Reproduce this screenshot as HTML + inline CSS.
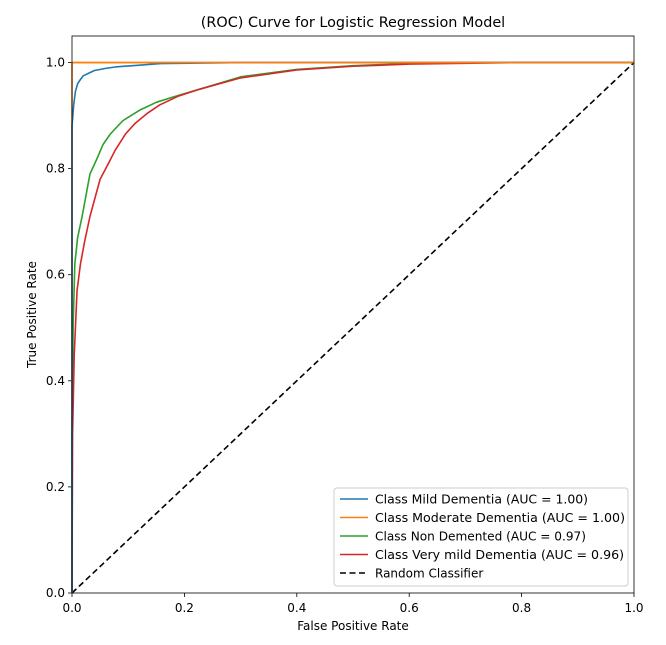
<!DOCTYPE html>
<html><head><meta charset="utf-8"><style>
body{margin:0;background:#fff;width:666px;height:640px;overflow:hidden;font-family:"Liberation Sans","DejaVu Sans",sans-serif}
</style></head><body>
<svg id="chart" width="666" height="640" xmlns="http://www.w3.org/2000/svg" font-family="'DejaVu Sans','Liberation Sans',sans-serif"></svg>
<script>
const tickValues = [0, 0.2, 0.4, 0.6, 0.8, 1.0];
const tickLabels = ["0.0","0.2","0.4","0.6","0.8","1.0"];
const mildFpr = [0,0,0,0.003,0.006,0.01,0.015,0.02,0.03,0.04,0.06,0.08,0.12,0.157,0.3,1];
const mildTpr = [0,0.71,0.88,0.92,0.945,0.96,0.968,0.975,0.98,0.985,0.989,0.992,0.995,0.998,1,1];
const moderateFpr = [0,0,1];
const moderateTpr = [0,1,1];
const nonFpr = [0,0,0.002,0.005,0.01,0.018,0.025,0.032,0.045,0.055,0.068,0.09,0.12,0.15,0.18,0.228,0.3,0.4,0.5,0.6,0.7,1];
const nonTpr = [0,0.3,0.5,0.62,0.67,0.71,0.75,0.79,0.82,0.845,0.865,0.89,0.91,0.925,0.935,0.95,0.973,0.987,0.994,0.998,1,1];
const veryFpr = [0,0.001,0.004,0.009,0.015,0.022,0.032,0.05,0.065,0.077,0.095,0.112,0.135,0.156,0.19,0.228,0.3,0.4,0.5,0.6,0.8,1];
const veryTpr = [0,0.3,0.45,0.57,0.62,0.66,0.71,0.78,0.81,0.835,0.865,0.885,0.905,0.92,0.937,0.95,0.971,0.986,0.993,0.997,1,1];
const seriesNames = ["Class Mild Dementia (AUC = 1.00)","Class Moderate Dementia (AUC = 1.00)","Class Non Demented (AUC = 0.97)","Class Very mild Dementia (AUC = 0.96)","Random Classifier"];

const L=72,R=634,T=36,B=593;
const X=v=>L+v*(R-L);
const Y=v=>B-v*(B-T)/1.05;
const svg=document.getElementById('chart');
const NS='http://www.w3.org/2000/svg';
function mk(tag,attrs,parent){const e=document.createElementNS(NS,tag);for(const k in attrs)e.setAttribute(k,attrs[k]);(parent||svg).appendChild(e);return e;}

const frame=mk('rect',{x:L,y:T,width:R-L,height:B-T,fill:'#fff',stroke:'none'});



tickValues.forEach((v,i)=>{
  const tx=mk('line',{x1:X(v),x2:X(v),y1:B,y2:B+4,stroke:'#000','stroke-width':0.8});
  
  
  const lx=mk('text',{x:X(v),y:B+19,'text-anchor':'middle','font-size':12,fill:'#000'});
  lx.textContent=tickLabels[i];
  
  
  const ty=mk('line',{x1:L-4,x2:L,y1:Y(v),y2:Y(v),stroke:'#000','stroke-width':0.8});
  
  
  const ly=mk('text',{x:L-7,y:Y(v)+4,'text-anchor':'end','font-size':12,fill:'#000'});
  ly.textContent=tickLabels[i];
  
  
});

function series(fx,fy,color,name,dash){
  const d=fx.map((v,i)=>(i?'L':'M')+X(v).toFixed(2)+' '+Y(fy[i]).toFixed(2)).join(' ');
  const p=mk('path',{d:d,fill:'none',stroke:color,'stroke-width':1.6,'stroke-linejoin':'round'});
  if(dash)p.setAttribute('stroke-dasharray',dash);
  
  
}
series([0,1],[0,1],'#000','random-classifier-line','6,3.5');
series(moderateFpr,moderateTpr,'#ff7f0e','moderate-dementia-curve');
series(nonFpr,nonTpr,'#2ca02c','non-demented-curve');
series(veryFpr,veryTpr,'#d62728','very-mild-dementia-curve');
series(mildFpr,mildTpr,'#1f77b4','mild-dementia-curve');
const orangeTop=mk('line',{x1:X(0),x2:X(1),y1:Y(1),y2:Y(1),stroke:'#ff7f0e','stroke-width':1.6});



const border=mk('rect',{x:L,y:T,width:R-L,height:B-T,fill:'none',stroke:'#000','stroke-width':0.8});



const title=mk('text',{x:(L+R)/2,y:27,'text-anchor':'middle','font-size':14.4,fill:'#000'});
title.textContent='(ROC) Curve for Logistic Regression Model';


const xt=mk('text',{x:(L+R)/2,y:630,'text-anchor':'middle','font-size':12,fill:'#000'});
xt.textContent='False Positive Rate';


const yt=mk('text',{x:36,y:(T+B)/2,'text-anchor':'middle','font-size':12,fill:'#000',transform:'rotate(-90 36 '+((T+B)/2)+')'});
yt.textContent='True Positive Rate';



const lg=mk('g',{});


mk('rect',{x:334,y:488,width:294,height:98,rx:3,fill:'#fff','fill-opacity':0.8,stroke:'#ccc','stroke-width':1},lg);
const colors=['#1f77b4','#ff7f0e','#2ca02c','#d62728','#000'];
seriesNames.forEach((n,i)=>{
  const y=499+i*18.5;
  const ln=mk('line',{x1:340,x2:368,y1:y,y2:y,stroke:colors[i],'stroke-width':1.6},lg);
  if(i===4)ln.setAttribute('stroke-dasharray','6,3.5');
  
  
  const t=mk('text',{x:375,y:y+4.5,'font-size':12,fill:'#000'},lg);
  t.textContent=n;
  if(i<4){t.setAttribute('textLength',[213,250,211,249][i]);t.setAttribute('lengthAdjust','spacingAndGlyphs');}
  
  
});
</script>
</body></html>
